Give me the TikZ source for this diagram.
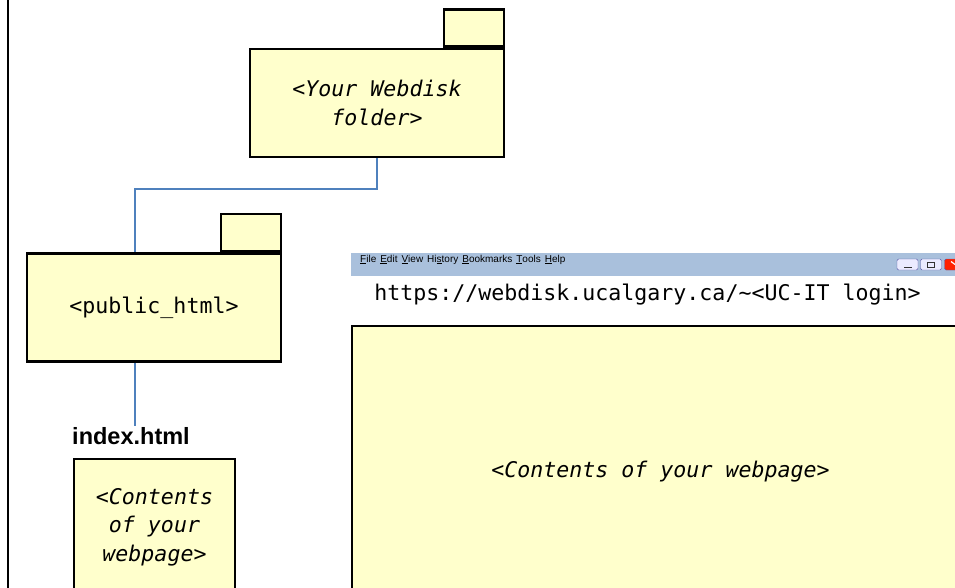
\documentclass[tikz,border=0pt]{standalone}
\usepackage{fontspec}
\setmainfont{Liberation Sans}
\newfontfamily\codefont{DejaVu Sans Mono}
\usetikzlibrary{positioning}

\definecolor{paper}{HTML}{FFFFCC}
\definecolor{linkblue}{HTML}{4F81BD}
\definecolor{menubar}{HTML}{A9C0DC}
\newcommand{\codesize}{\codefont\fontsize{21.6}{28.5}\selectfont}

\begin{document}
\begin{tikzpicture}[
	x=1pt, y=-1pt,
	folder/.style={draw, line width=2.5pt, fill=paper, minimum width=254pt, minimum height=108pt, align=center, font=\codesize},
	foldertab/.style={draw, line width=2.5pt, fill=paper, minimum width=60pt, minimum height=37pt, inner sep=0pt, anchor=south east},
	pagebox/.style={draw, line width=2.5pt, fill=paper, align=center, font=\codesize\itshape},
	link/.style={draw=linkblue, line width=2pt},
	winbtn/.style={draw=gray!70!blue, fill=#1, rounded corners=1.5pt, minimum width=21pt, minimum height=11pt, inner sep=0pt}]
	\path[use as bounding box, clip] (0,0) rectangle (955,587);
	\fill[white] (0,0) rectangle (955,587);
	\draw[line width=2pt] (8,-5) -- (8,600);

	% folders
	\node[folder, font=\codesize\itshape] (webdisk) at (377,103) {<Your Webdisk\\folder>};
	\node[foldertab] (webdisktab) at (webdisk.north east) {};
	\node[folder] (publichtml) at (154,307.5) {<public\_html>};
	\node[foldertab] (publichtmltab) at (publichtml.north east) {};

	\node[font=\bfseries\fontsize{23.5}{26}\selectfont, inner sep=1pt] (indexlabel) at (131,436) {index.html};
	\node[pagebox, minimum width=161pt, minimum height=136pt] (smallpage) at (154.5,527) {<Contents\\of your\\webpage>};

	\coordinate (bend) at (135,189);
	\draw[link] (webdisk.south) |- (bend) -- (bend |- publichtml.north);
	\draw[link] (publichtml.south -| bend) -- (indexlabel.north -| bend);

	% browser window
	\fill[menubar] (351,253) rectangle (970,276);
	\node[anchor=west, inner sep=0pt, font=\fontsize{10}{12}\selectfont] (menu) at (360,259.5)
		{\underline{F}ile\hspace{4pt}\underline{E}dit\hspace{4pt}\underline{V}iew\hspace{4pt}Hi\underline{s}tory\hspace{4pt}\underline{B}ookmarks\hspace{4pt}\underline{T}ools\hspace{4pt}\underline{H}elp};
	\node[winbtn=blue!8] (minbtn) at (907.5,264.5) {};
	\node[winbtn=blue!8] (maxbtn) at (931,264.5) {};
	\node[winbtn=red!75!orange] (closebtn) at (955,264.5) {};
	\fill[gray!40!black] ([shift={(-4,2)}]minbtn.center) rectangle ([shift={(4,3.5)}]minbtn.center);
	\draw[gray!40!black, line width=0.8pt] ([shift={(-3.5,-2.5)}]maxbtn.center) rectangle ([shift={(3.5,2.5)}]maxbtn.center);
	\draw[white, line width=1.2pt] ([shift={(-4,-3)}]closebtn.center) -- ([shift={(0,0)}]closebtn.center);

	\node[font=\codesize] (url) at (647.5,295) {https://webdisk.ucalgary.ca/\char`\~<UC-IT login>};
	\node[pagebox, minimum width=617pt, minimum height=292pt] (bigpage) at (660.5,472) {<Contents of your webpage>};
\end{tikzpicture}
\end{document}
